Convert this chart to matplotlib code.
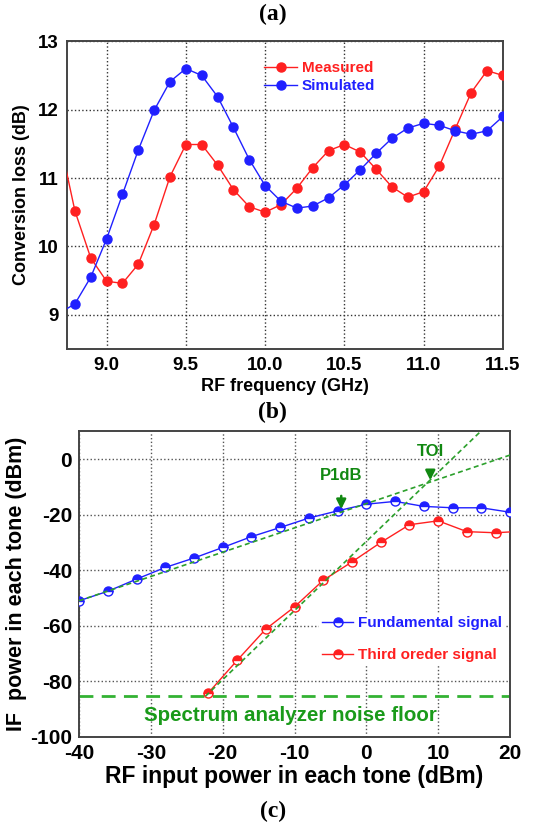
import numpy as np
import matplotlib
matplotlib.use("Agg")
import matplotlib.pyplot as plt

plt.rcParams['font.family'] = ['Liberation Sans', 'DejaVu Sans']
plt.rcParams['font.weight'] = 'bold'
plt.rcParams['axes.unicode_minus'] = False

# (a) conversion loss vs RF frequency
freq = [8.7, 8.8, 8.9, 9.0, 9.1, 9.2, 9.3, 9.4, 9.5, 9.6, 9.7, 9.8, 9.9, 10.0,
        10.1, 10.2, 10.3, 10.4, 10.5, 10.6, 10.7, 10.8, 10.9, 11.0, 11.1, 11.2,
        11.3, 11.4, 11.5]
measured = [11.6, 10.52, 9.83, 9.49, 9.46, 9.74, 10.32, 11.02, 11.49, 11.49, 11.19,
            10.83, 10.58, 10.50, 10.61, 10.85, 11.15, 11.40, 11.49, 11.38, 11.13,
            10.87, 10.72, 10.80, 11.18, 11.72, 12.25, 12.57, 12.50]
simulated = [9.02, 9.16, 9.55, 10.11, 10.76, 11.41, 11.99, 12.41, 12.60, 12.50, 12.19,
             11.74, 11.27, 10.89, 10.66, 10.56, 10.59, 10.71, 10.90, 11.12, 11.36,
             11.58, 11.73, 11.80, 11.77, 11.69, 11.64, 11.69, 11.90]

# (b) two-tone test
pin_fund = [-40, -36, -32, -28, -24, -20, -16, -12, -8, -4, 0, 4, 8, 12, 16, 20]
fund = [-51.0, -47.6, -43.2, -39.0, -35.6, -31.8, -27.9, -24.6, -21.2, -18.6,
        -16.2, -15.2, -17.0, -17.5, -17.5, -19.1]
pin_third = [-22, -18, -14, -10, -6, -2, 2, 6, 10, 14, 18, 20]
third = [-84.2, -72.5, -61.2, -53.2, -43.6, -37.0, -30.0, -23.6, -22.2, -26.1,
         -26.5, -26.2]
fund_fit_x = [-40, 20]
fund_fit_y = [-51.0, 1.5]
third_fit_x = [-22.4, 15.9]
third_fit_y = [-85.4, 10.0]
noise_floor = -85.4
p1db = (-3.5, -18.0)
toi = (8.9, -7.6)

fig = plt.figure(figsize=(5.49, 8.25), dpi=100)

# ---------- (a)
ax1 = fig.add_axes([0.122, 0.577, 0.794, 0.373])
ax1.plot(freq, measured, '-o', color='#ff2020', lw=1.0, ms=6.5, mec='#ff2020', label='Measured', zorder=3)
ax1.plot(freq, simulated, '-o', color='#2020ff', lw=1.0, ms=6.5, mec='#2020ff', label='Simulated', zorder=3)
ax1.set_xlim(8.75, 11.5)
ax1.set_ylim(8.5, 13)
ax1.set_xticks([9.0, 9.5, 10.0, 10.5, 11.0, 11.5])
ax1.set_xticklabels(['9.0', '9.5', '10.0', '10.5', '11.0', '11.5'])
ax1.set_yticks([9, 10, 11, 12, 13])
ax1.grid(True, color='#333333', ls=':', lw=1.0)
ax1.tick_params(length=0, labelsize=13.5, pad=6)
ax1.set_xlabel('RF frequency (GHz)', fontsize=13, fontweight='bold', labelpad=3)
ax1.set_ylabel('Conversion loss (dB)', fontsize=13, fontweight='bold', labelpad=6)
for s in ax1.spines.values():
    s.set_color('#444444')
    s.set_linewidth(1.4)
leg = ax1.legend(loc='upper left', bbox_to_anchor=(0.42, 0.98), frameon=False,
                 fontsize=11, handlelength=2.2, handletextpad=0.3, labelspacing=0.25,
                 labelcolor='linecolor')
for t in leg.get_texts():
    t.set_fontweight('bold')

# ---------- (b)
ax2 = fig.add_axes([0.144, 0.107, 0.785, 0.370])
ax2.plot(pin_fund, fund, '-o', color='#2020ff', lw=1.0, ms=6.5, mec='#2020ff', mfc='#2020ff',
         mew=1.0, fillstyle='top', markerfacecoloralt='white', label='Fundamental signal', zorder=3)
ax2.plot(pin_third, third, '-o', color='#ff2020', lw=1.0, ms=6.5, mec='#ff2020', mfc='#ff2020',
         mew=1.0, fillstyle='top', markerfacecoloralt='white',
         markevery=list(range(len(pin_third) - 1)), label='Third oreder signal', zorder=3)
ax2.plot(fund_fit_x, fund_fit_y, '--', color='#2ca02c', lw=1.2, dashes=(3, 2), zorder=4)
ax2.plot(third_fit_x, third_fit_y, '--', color='#2ca02c', lw=1.2, dashes=(3, 2), zorder=4)
ax2.axhline(noise_floor, color='#33b233', lw=2.0, ls=(0, (5, 3)), zorder=2)
ax2.text(-10.6, -92.2, 'Spectrum analyzer noise floor', color='#1a9a1a', fontsize=14.8,
         fontweight='bold', ha='center', va='center')
ax2.annotate('P1dB', xy=p1db, xytext=(p1db[0], p1db[1] + 12), color='#118811',
             fontsize=12, fontweight='bold', ha='center', va='center',
             arrowprops=dict(arrowstyle='-|>', color='#118811', lw=1.8, mutation_scale=14,
                             shrinkA=7, shrinkB=0))
ax2.annotate('TOI', xy=toi, xytext=(toi[0], toi[1] + 10.4), color='#118811',
             fontsize=12, fontweight='bold', ha='center', va='center',
             arrowprops=dict(arrowstyle='-|>', color='#118811', lw=1.8, mutation_scale=14,
                             shrinkA=7, shrinkB=0))
ax2.set_xlim(-40, 20)
ax2.set_ylim(-100, 10)
ax2.set_xticks([-40, -30, -20, -10, 0, 10, 20])
ax2.set_yticks([-100, -80, -60, -40, -20, 0])
ax2.grid(True, color='#555555', ls=':', lw=1.0)
ax2.tick_params(length=0, labelsize=15, pad=5)
ax2.set_xlabel('RF input power in each tone (dBm)', fontsize=16.5, fontweight='bold', labelpad=2)
ax2.set_ylabel('IF  power in each tone (dBm)', fontsize=15.5, fontweight='bold', labelpad=2)
for s in ax2.spines.values():
    s.set_color('#444444')
    s.set_linewidth(1.4)
leg2 = ax2.legend(loc='upper left', bbox_to_anchor=(0.54, 0.43), frameon=True,
                  facecolor='white', edgecolor='none', framealpha=1.0, fancybox=False,
                  fontsize=11, handlelength=2.0, handletextpad=0.35, labelspacing=1.2,
                  borderpad=0.2, labelcolor='linecolor')
leg2.set_zorder(5)
for t in leg2.get_texts():
    t.set_fontweight('bold')

# panel labels
for lbl, y in [('(a)', 0.982), ('(b)', 0.500), ('(c)', 0.016)]:
    fig.text(0.497, y, lbl, fontsize=17, fontweight='bold', ha='center', va='center',
             family=['Liberation Serif', 'DejaVu Serif'])

fig.savefig('out.png', dpi=100)
